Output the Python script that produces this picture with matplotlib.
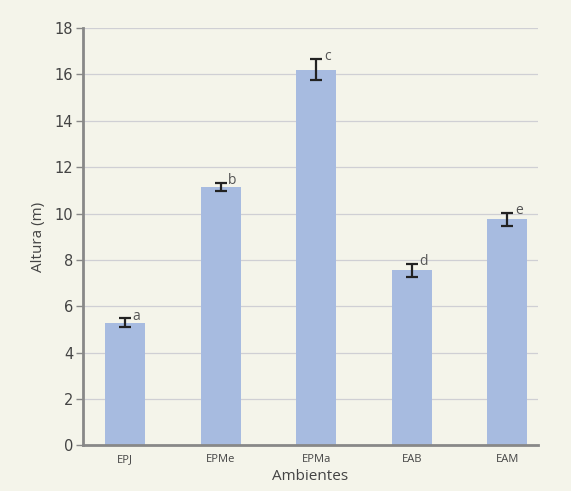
import matplotlib
matplotlib.use("Agg")
import matplotlib.pyplot as plt
import numpy as np

categories = ["EPJ", "EPMe", "EPMa", "EAB", "EAM"]
values = [5.3, 11.15, 16.2, 7.55, 9.75]
errors = [0.18, 0.18, 0.45, 0.28, 0.28]
letters = ["a", "b", "c", "d", "e"]
yticks = [0, 2, 4, 6, 8, 10, 12, 14, 16, 18]

bg = "#f4f4ea"
fig = plt.figure(figsize=(5.71, 4.91), dpi=100, facecolor=bg)
ax = fig.add_axes([0.1454, 0.0927, 0.7966, 0.8503], facecolor=bg)

x = np.arange(len(categories))
ax.bar(x, values, width=0.42, color="#a7bbe0", zorder=2)
ax.errorbar(x, values, yerr=errors, fmt="none", ecolor="#222222",
            elinewidth=1.6, capsize=4, capthick=1.6, zorder=3)
for xi, v, e, l in zip(x, values, errors, letters):
    ax.text(xi + 0.08, v + e - 0.05, l, ha="left", va="baseline", fontsize=10,
            color="#555555", family="Open Sans")

ax.set_xlim(-0.44, 4.32)
ax.set_ylim(0, 18)
ax.set_yticks(yticks)
ax.set_xticks(x)
ax.set_xticklabels(categories, fontsize=8, color="#444444", family="Open Sans")
ax.tick_params(axis="x", length=0, pad=6)
ax.tick_params(axis="y", length=5, width=1, color="#888888", labelsize=10.5,
               labelcolor="#444444", pad=2)
ax.yaxis.grid(True, color="#cfcfd4", linewidth=0.9, zorder=0)
ax.set_axisbelow(True)
for s in ["top", "right"]:
    ax.spines[s].set_visible(False)
ax.spines["left"].set_color("#888888")
ax.spines["left"].set_linewidth(2)
ax.spines["bottom"].set_color("#888888")
ax.spines["bottom"].set_linewidth(2)
ax.set_xlabel("Ambientes", fontsize=11, color="#444444", family="Open Sans", labelpad=3)
ax.set_ylabel("Altura (m)", fontsize=11, color="#444444", family="Open Sans", labelpad=6)

fig.savefig("out.png", dpi=100, facecolor=bg)
